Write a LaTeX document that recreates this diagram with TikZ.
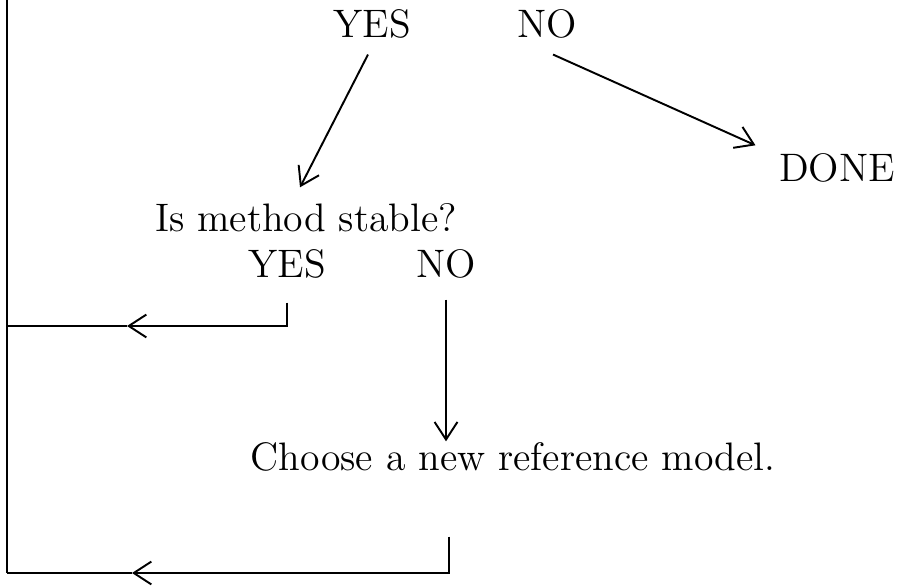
\documentclass[tikz,border=0pt]{standalone}
\usepackage{tikz}
\usetikzlibrary{arrows.meta,calc}

\begin{document}
\begin{tikzpicture}[
    x=0.01cm, y=-0.01cm,
    every node/.style={font=\fontsize{11.3}{13.5}\selectfont, inner sep=0pt},
    answer/.style={anchor=base},
    flow/.style={line width=0.55pt, -{Straight Barb[length=5pt,width=6.5pt]}},
    wire/.style={line width=0.55pt}
]
\useasboundingbox (0,0) rectangle (898,586);
\node[answer] (yes1) at (372,38) {YES};
\node[answer] (no1) at (547,38) {NO};
\node[answer] (done) at (837,182) {DONE};
\node[answer] (stable) at (306,232) {Is method stable?};
\node[answer] (yes2) at (287,278) {YES};
\node[answer] (no2) at (446,278) {NO};
\node[answer] (choose) at (513,471) {Choose a new reference model.};

\coordinate (top) at (7,0);
\coordinate (mid) at (7,326);
\coordinate (bot) at (7,573);

\draw[flow] ($(yes1.south)+(-4,15)$) -- ($(stable.north)+(-6,-16)$);
\draw[flow] ($(no1.south)+(6,15)$) -- ($(done.north west)+(-23,-8)$);
\draw[wire] (top) -- (bot);
\draw[flow] ($(yes2.south)+(0,23)$) |- ($(mid)+(120,0)$);
\draw[wire] ($(mid)+(120,0)$) -- (mid);
\draw[flow] ($(no2.south)+(0,20)$) -- ($(no2.south |- choose.north)+(0,-1)$);
\draw[flow] ($(choose.south)+(-64,64)$) |- ($(bot)+(125,0)$);
\draw[wire] ($(bot)+(125,0)$) -- (bot);
\end{tikzpicture}
\end{document}
